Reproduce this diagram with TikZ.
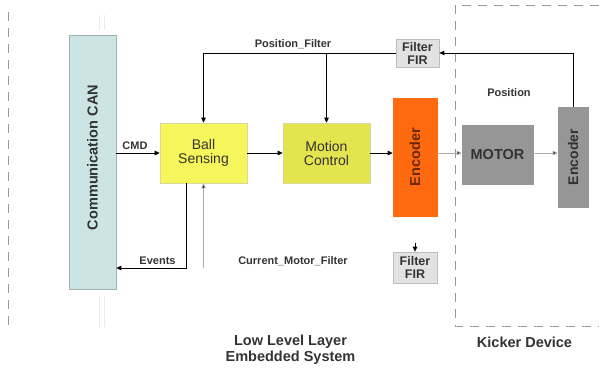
\documentclass[tikz,border=0pt]{standalone}
\usepackage{fontspec}
\setmainfont{Liberation Sans}
\usetikzlibrary{arrows.meta}
\definecolor{txt}{HTML}{333333}
\definecolor{canfill}{HTML}{CCE5E4}
\definecolor{canline}{HTML}{9FB3B2}
\definecolor{ballfill}{HTML}{F6F65C}
\definecolor{motfill}{HTML}{E4E44E}
\definecolor{yline}{HTML}{D8D89A}
\definecolor{orfill}{HTML}{FF6A10}
\definecolor{ortxt}{HTML}{6A2800}
\definecolor{gryfill}{HTML}{969696}
\definecolor{firfill}{HTML}{E2E2E2}
\definecolor{firline}{HTML}{BDBDBD}
\definecolor{dashc}{HTML}{999999}
\definecolor{garrc}{HTML}{AAAAAA}
\begin{document}
\begin{tikzpicture}[x=1pt,y=-1pt,
  box/.style={rectangle, inner sep=0pt, line width=0.6pt, align=center, text=txt},
  arr/.style={-{Triangle[length=5pt,width=4.5pt]}, line width=0.8pt, black},
  garr/.style={-{Triangle[length=5pt,width=4.5pt,fill=black]}, line width=0.8pt, draw=garrc},
  lbl/.style={font=\fontsize{11}{12}\selectfont\bfseries, text=txt, inner sep=0pt},
  big/.style={font=\fontsize{14.5}{15.5}\selectfont\bfseries, text=txt, inner sep=0pt, align=center},
  dashln/.style={draw=dashc, line width=0.8pt, dash pattern=on 9pt off 7pt},
  faint/.style={draw=black!8, line width=0.6pt}]
\useasboundingbox (0,0) rectangle (599,368);
% frames
\draw[dashln] (8,12) -- (8,326);
\draw[dashln] (599,5) -- (455,5) -- (455,326) -- (599,326);
\draw[faint] (99,15) -- (99,30) (104,15) -- (104,30);
\draw[faint] (99,296) -- (99,327) (104,296) -- (104,327);
% blocks
\node[box, fill=canfill, draw=canline, minimum width=47pt, minimum height=254pt,
      font=\fontsize{14.5}{15}\selectfont\bfseries] (can) at (92.5,162) {\rotatebox{90}{\hspace*{9pt}Communication CAN}};
\node[box, fill=ballfill, draw=yline, minimum width=87pt, minimum height=60pt,
      font=\fontsize{14}{14}\selectfont] (ball) at (203.5,153) {Ball\\Sensing};
\node[box, fill=motfill, draw=yline, minimum width=87pt, minimum height=60pt,
      font=\fontsize{14}{14}\selectfont] (motion) at (326.5,153) {Motion\\Control};
\node[box, fill=orfill, draw=orfill, minimum width=44pt, minimum height=118pt, text=ortxt,
      font=\fontsize{14.5}{15}\selectfont\bfseries] (enc1) at (415,157) {\rotatebox{90}{Encoder}};
\node[box, fill=gryfill, draw=gryfill, minimum width=71pt, minimum height=59pt,
      font=\fontsize{14.5}{15}\selectfont\bfseries] (motor) at (497.5,154.5) {MOTOR};
\node[box, fill=gryfill, draw=gryfill, minimum width=30pt, minimum height=100pt,
      font=\fontsize{14}{15}\selectfont\bfseries] (enc2) at (573,157) {\rotatebox{90}{Encoder}};
\node[box, fill=firfill, draw=firline, minimum width=43pt, minimum height=28pt,
      font=\fontsize{12.5}{13}\selectfont\bfseries] (fir1) at (417.5,53) {Filter\\FIR};
\node[box, fill=firfill, draw=firline, minimum width=44pt, minimum height=31pt,
      font=\fontsize{12.5}{13}\selectfont\bfseries] (fir2) at (415,267.5) {Filter\\FIR};
% helper coordinates
\coordinate (row) at (0,153);
\coordinate (ev) at (186,268);
\coordinate (cur) at (203.5,268);
\coordinate (firin) at (415,243);
% connectors
\draw[arr] (can.east |- row) -- (ball.west);
\draw[arr] (ball.east) -- (motion.west);
\draw[arr] (motion.east) -- (enc1.west |- row);
\draw[garr] (enc1.east |- row) -- (motor.west |- row);
\draw[garr] (motor.east |- row) -- (enc2.west |- row);
\draw[arr] (enc2.north) |- (fir1.east);
\draw[arr] (fir1.west) -| (ball.north);
\draw[arr] (motion.north |- fir1.west) -- (motion.north);
\draw[arr] (ball.south -| ev) |- (can.east |- ev);
\draw[garr] (cur) -- (ball.south);
\draw[arr] (firin) -- (fir2.north);
% labels
\node[lbl] (lpf) at (293,44) {Position\_Filter};
\node[lbl] (lcmd) at (135,146) {CMD};
\node[lbl] (lev) at (157.5,261) {Events};
\node[lbl] (lcur) at (293,261) {Current\_Motor\_Filter};
\node[lbl] (lpos) at (509,93) {Position};
\node[big] (low) at (290.5,349.5) {Low Level Layer\\Embedded System};
\node[big] (kick) at (524.5,342) {Kicker Device};
\end{tikzpicture}
\end{document}
